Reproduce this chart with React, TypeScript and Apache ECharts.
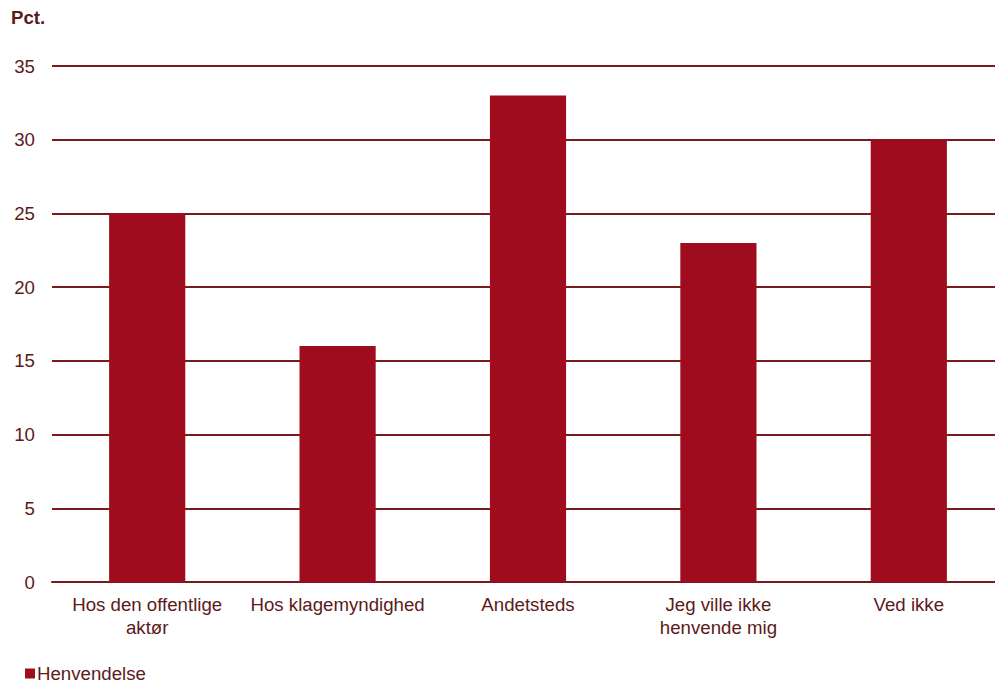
import React, { useEffect, useRef } from "react";
import * as echarts from "echarts";

const categories = [
  "Hos den offentlige\naktør",
  "Hos klagemyndighed",
  "Andetsteds",
  "Jeg ville ikke\nhenvende mig",
  "Ved ikke",
];
const seriesName = "Henvendelse";
const values = [25, 16, 33, 23, 30];
const yTicks = { min: 0, max: 35, interval: 5 };

const TEXT = "#5c1a1a";
const BAR = "#9e0c1e";
const GRID = "#7a1a1c";
const FONT = "Liberation Sans, Arial, sans-serif";
const FS = 18.67;

export default function App() {
  const ref = useRef<HTMLDivElement>(null);
  useEffect(() => {
    const chart = echarts.init(ref.current!, null, { renderer: "svg" });
    chart.setOption({
      animation: false,
      textStyle: { fontFamily: FONT },
      title: {
        text: "Pct.",
        left: 6,
        top: 3,
        textStyle: { fontSize: FS, fontWeight: "bold", color: TEXT, fontFamily: FONT },
      },
      grid: { left: 52, top: 66, right: 0, height: 516, containLabel: false },
      legend: {
        left: 20,
        top: 664,
        padding: [0, 5, 0, 5],
        itemWidth: 10,
        itemHeight: 10,
        icon: "rect",
        data: [seriesName],
        textStyle: { fontSize: FS, color: TEXT, padding: [0, 0, 0, -3], lineHeight: 17 },
      },
      xAxis: {
        type: "category",
        data: categories,
        axisTick: { show: false },
        axisLine: { lineStyle: { color: GRID, width: 2 } },
        axisLabel: { color: TEXT, fontSize: FS, margin: 11, lineHeight: 23, interval: 0 },
      },
      yAxis: {
        type: "value",
        min: yTicks.min,
        max: yTicks.max,
        interval: yTicks.interval,
        axisLine: { show: false },
        axisTick: { show: false },
        axisLabel: { color: TEXT, fontSize: FS, margin: 17 },
        splitLine: { lineStyle: { color: GRID, width: 2 } },
      },
      series: [
        {
          name: seriesName,
          type: "bar",
          data: values,
          barCategoryGap: "60%",
          itemStyle: { color: BAR },
        },
      ],
    });
    return () => chart.dispose();
  }, []);
  return (
    <div style={{ width: 995, height: 683, position: "absolute", left: 0, top: 0, overflow: "hidden" }}>
      <div ref={ref} style={{ width: 1004, height: 683 }} />
    </div>
  );
}
